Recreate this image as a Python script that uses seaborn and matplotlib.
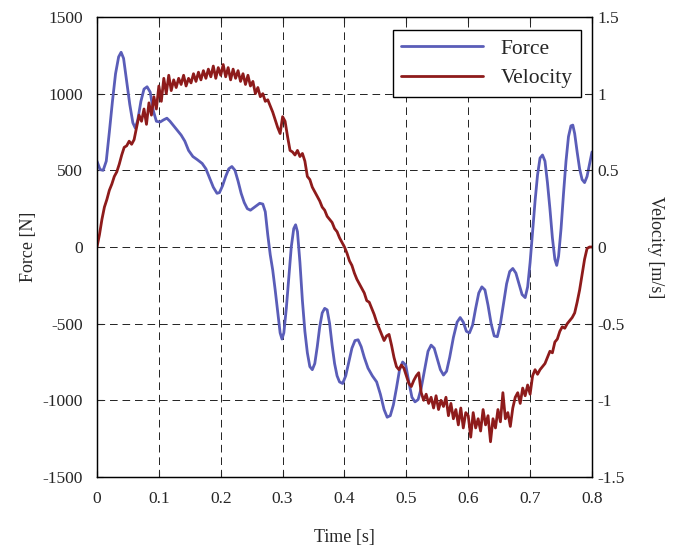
import numpy as np
import pandas as pd
import matplotlib
matplotlib.use('Agg')
import matplotlib.pyplot as plt
import seaborn as sns

# force curve (time [s], force [N])
force_t = [0.000, 0.005, 0.010, 0.015, 0.020, 0.025, 0.030, 0.035, 0.039, 0.043,
           0.048, 0.053, 0.058, 0.062, 0.066, 0.071, 0.076, 0.081, 0.086, 0.091,
           0.096, 0.102, 0.108, 0.113, 0.118, 0.124, 0.130, 0.136, 0.142, 0.148,
           0.155, 0.162, 0.170, 0.176, 0.182, 0.188, 0.194, 0.198, 0.203, 0.208,
           0.213, 0.218, 0.223, 0.228, 0.233, 0.238, 0.243, 0.248, 0.253, 0.258,
           0.263, 0.268, 0.272, 0.276, 0.280, 0.284, 0.288, 0.292, 0.296, 0.299,
           0.302, 0.306, 0.310, 0.314, 0.318, 0.321, 0.324, 0.328, 0.332, 0.336,
           0.340, 0.344, 0.348, 0.352, 0.356, 0.360, 0.364, 0.368, 0.372, 0.376,
           0.380, 0.384, 0.388, 0.392, 0.397, 0.402, 0.407, 0.412, 0.417, 0.422,
           0.427, 0.432, 0.438, 0.445, 0.452, 0.458, 0.464, 0.469, 0.474, 0.479,
           0.484, 0.489, 0.494, 0.499, 0.504, 0.509, 0.514, 0.519, 0.524, 0.530,
           0.535, 0.540, 0.545, 0.550, 0.555, 0.560, 0.565, 0.570, 0.576, 0.582,
           0.587, 0.592, 0.597, 0.602, 0.607, 0.612, 0.617, 0.622, 0.627, 0.632,
           0.637, 0.642, 0.647, 0.652, 0.657, 0.662, 0.667, 0.672, 0.677, 0.682,
           0.687, 0.692, 0.696, 0.700, 0.704, 0.708, 0.712, 0.716, 0.720, 0.724,
           0.728, 0.732, 0.736, 0.740, 0.743, 0.746, 0.750, 0.754, 0.758, 0.762,
           0.766, 0.769, 0.772, 0.776, 0.780, 0.784, 0.788, 0.792, 0.796, 0.800]
force = [560, 505, 500, 560, 750, 950, 1130, 1240, 1270, 1230,
         1080, 930, 810, 775, 830, 950, 1030, 1045, 1010, 890,
         820, 815, 830, 840, 820, 790, 760, 730, 690, 630,
         590, 570, 545, 510, 450, 390, 350, 355, 400, 460,
         510, 525, 500, 430, 350, 290, 250, 240, 255, 270,
         285, 280, 230, 80, -50, -150, -280, -420, -560, -600,
         -560, -400, -200, 0, 120, 145, 100, -100, -350, -550,
         -690, -780, -800, -760, -650, -520, -430, -400, -410, -500,
         -640, -760, -840, -880, -890, -840, -750, -660, -610, -605,
         -650, -720, -790, -840, -880, -960, -1060, -1110, -1100, -1030,
         -920, -800, -750, -770, -880, -980, -1010, -995, -920, -790,
         -680, -640, -660, -730, -800, -835, -810, -720, -590, -490,
         -460, -490, -550, -560, -510, -400, -300, -260, -280, -380,
         -500, -580, -585, -500, -370, -240, -160, -140, -170, -240,
         -310, -330, -260, -100, 100, 300, 470, 580, 600, 560,
         420, 250, 60, -80, -120, -60, 120, 350, 560, 720,
         790, 795, 740, 620, 510, 440, 420, 460, 540, 620]

# velocity, sampled every 4 ms (m/s)
vel_step = 0.004
velocity = [
    0.00, 0.08, 0.18, 0.26, 0.31, 0.37, 0.41, 0.46, 0.49, 0.54,
    0.60, 0.65, 0.66, 0.69, 0.67, 0.70, 0.78, 0.86, 0.82, 0.90,
    0.80, 0.94, 0.86, 0.98, 0.90, 1.05, 0.95, 1.10, 1.00, 1.12,
    1.02, 1.09, 1.04, 1.10, 1.06, 1.12, 1.05, 1.10, 1.07, 1.13,
    1.08, 1.14, 1.09, 1.15, 1.10, 1.16, 1.11, 1.18, 1.10, 1.17,
    1.12, 1.19, 1.11, 1.17, 1.09, 1.16, 1.10, 1.15, 1.08, 1.13,
    1.06, 1.12, 1.05, 1.08, 1.00, 1.04, 0.98, 1.00, 0.95, 0.96,
    0.92, 0.88, 0.83, 0.78, 0.74, 0.85, 0.82, 0.72, 0.63, 0.62,
    0.60, 0.63, 0.59, 0.61, 0.56, 0.46, 0.44, 0.39, 0.36, 0.33,
    0.30, 0.26, 0.24, 0.20, 0.18, 0.16, 0.12, 0.10, 0.06, 0.03,
    0.00, -0.04, -0.09, -0.12, -0.17, -0.21, -0.24, -0.27, -0.30, -0.35,
    -0.36, -0.40, -0.44, -0.49, -0.53, -0.57, -0.61, -0.58, -0.57, -0.64,
    -0.72, -0.78, -0.80, -0.77, -0.79, -0.84, -0.89, -0.91, -0.87, -0.84,
    -0.82, -0.95, -1.00, -0.96, -1.02, -0.98, -1.05, -0.97, -1.06, -1.00,
    -1.04, -0.98, -1.10, -1.02, -1.12, -1.06, -1.16, -1.05, -1.18, -1.08,
    -1.10, -1.24, -1.08, -1.18, -1.12, -1.20, -1.06, -1.16, -1.10, -1.27,
    -1.12, -1.18, -1.06, -1.14, -0.95, -1.12, -1.08, -1.17, -1.05, -0.98,
    -0.95, -1.02, -0.92, -0.97, -0.90, -0.96, -0.84, -0.80, -0.83, -0.80,
    -0.78, -0.76, -0.72, -0.68, -0.69, -0.62, -0.60, -0.55, -0.52, -0.53,
    -0.50, -0.48, -0.46, -0.43, -0.36, -0.28, -0.18, -0.08, -0.01, 0.00,
    0.00]
vel_t = np.arange(len(velocity)) * vel_step

force_df = pd.DataFrame({'t': force_t, 'F': force})
vel_df = pd.DataFrame({'t': vel_t, 'v': velocity})

sns.set_style('ticks')
plt.rcParams['font.family'] = ['Liberation Serif', 'DejaVu Serif']
plt.rcParams['xtick.direction'] = 'in'
plt.rcParams['ytick.direction'] = 'in'
plt.rcParams['lines.scale_dashes'] = False
plt.rcParams['axes.unicode_minus'] = False

fig = plt.figure(figsize=(6.81, 5.5), dpi=100)
ax = fig.add_axes([0.1424, 0.1327, 0.7269, 0.8364])
ax2 = ax.twinx()

blue = '#5a5db8'
red = '#8e1b1b'
sns.lineplot(data=force_df, x='t', y='F', ax=ax, color=blue, lw=2.0, label='Force', legend=False)
sns.lineplot(data=vel_df, x='t', y='v', ax=ax2, color=red, lw=2.0, label='Velocity', legend=False)

ax.set_xlim(0, 0.8)
ax.set_ylim(-1500, 1500)
ax2.set_ylim(-1.5, 1.5)
ax.set_xticks(np.arange(0, 0.81, 0.1))
ax.set_xticklabels(['0', '0.1', '0.2', '0.3', '0.4', '0.5', '0.6', '0.7', '0.8'])
ax.set_yticks(np.arange(-1500, 1501, 500))
ax2.set_yticks([-1.5, -1, -0.5, 0, 0.5, 1, 1.5])
ax2.set_yticklabels(['-1.5', '-1', '-0.5', '0', '0.5', '1', '1.5'])

ax.grid(True, color='#222222', linestyle=(0, (5.5, 3.5)), linewidth=0.7)
ax.tick_params(labelsize=12.5, length=4, width=0.8, top=True)
ax.tick_params(axis='x', pad=10)
ax.tick_params(axis='y', pad=10)
ax2.tick_params(labelsize=12.5, length=4, width=0.8, pad=4)
for a in (ax, ax2):
    for s in a.spines.values():
        s.set_linewidth(0.9)
        s.set_color('black')

ax.set_xlabel('Time [s]', fontsize=13, labelpad=16)
ax.set_ylabel('Force [N]', fontsize=13, labelpad=4)
ax2.set_ylabel('Velocity [m/s]', fontsize=13, rotation=270, labelpad=28)

h1, l1 = ax.get_legend_handles_labels()
h2, l2 = ax2.get_legend_handles_labels()
leg = ax2.legend(h1 + h2, l1 + l2, loc='upper right', bbox_to_anchor=(0.978, 0.972),
                 borderaxespad=0, fontsize=15.5, fancybox=False, framealpha=1,
                 edgecolor='black', handlelength=3.8, borderpad=0.4, labelspacing=0.45)
leg.get_frame().set_linewidth(1.0)

fig.savefig('out.png', dpi=100)
